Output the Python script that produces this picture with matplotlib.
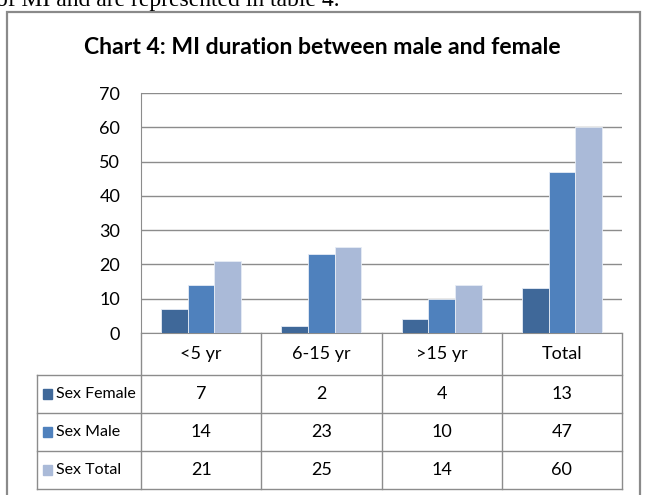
import numpy as np
import matplotlib.pyplot as plt
from matplotlib.patches import Rectangle

categories = ['<5 yr', '6-15 yr', '>15 yr', 'Total']
series_names = ['Sex Female', 'Sex Male', 'Sex Total']
female = [7, 2, 4, 13]
male = [14, 23, 10, 47]
total = [21, 25, 14, 60]
colors = ['#3F6899', '#4F81BD', '#AABAD8']

W, H = 645, 495
NARROW = ['Lato', 'DejaVu Sans']
grid_col = '#8c8c8c'

fig = plt.figure(figsize=(W / 100, H / 100), dpi=100)


def box(x0, y0, x1, y1):
    # pixel box, origin top-left -> figure rect
    return [x0 / W, 1 - y1 / H, (x1 - x0) / W, (y1 - y0) / H]


# cropped line of body text above the chart
fig.text(-4 / W, 1 - 6 / H, 'of MI and are represented in table 4.',
         family='Liberation Serif', fontsize=17, va='baseline', ha='left')

# chart frame
fig.patches.append(Rectangle((7 / W, -0.02), (640 - 7) / W, (H - 12) / H + 0.02,
                             transform=fig.transFigure, fill=False,
                             ec='#8a8a8a', lw=1.6))

fig.text(322 / W, 1 - 47 / H, 'Chart 4: MI duration between male and female',
         family=NARROW, fontsize=16.6, fontweight='bold', ha='center', va='center')

# bars
ax = fig.add_axes(box(141, 93, 622, 333))
x = np.arange(len(categories))
w = 1 / 4.5
for i, (vals, c) in enumerate(zip([female, male, total], colors)):
    ax.bar(x + (i - 1) * w, vals, w, color=c, edgecolor='#e6ecf5', lw=0.6, zorder=3)
ax.set_xlim(-0.5, len(categories) - 0.5)
ax.set_ylim(0, 70)
ax.set_yticks(range(0, 71, 10))
ax.yaxis.grid(True, color=grid_col, lw=1)
ax.set_axisbelow(True)
ax.set_xticks([])
for s in ['top', 'right']:
    ax.spines[s].set_visible(False)
ax.spines['left'].set_color(grid_col)
ax.spines['bottom'].set_color(grid_col)
ax.tick_params(axis='y', length=0, pad=15, labelsize=13)
for t in ax.get_yticklabels():
    t.set_family(NARROW)

# data table under the plot
tx = fig.add_axes(box(37, 333, 622, 489))
tx.set_xlim(37, 622)
tx.set_ylim(489, 333)
tx.axis('off')
col_edges = np.linspace(141, 622, len(categories) + 1)
row_edges = [333, 375, 413, 451, 489]
for xe in col_edges:
    tx.plot([xe, xe], [333, 489], color=grid_col, lw=1, clip_on=False)
tx.plot([37, 37], [375, 489], color=grid_col, lw=1, clip_on=False)
for ye in row_edges[1:]:
    tx.plot([37, 622], [ye, ye], color=grid_col, lw=1, clip_on=False)

col_mid = (col_edges[:-1] + col_edges[1:]) / 2
for cx, cat in zip(col_mid, categories):
    tx.text(cx, (row_edges[0] + row_edges[1]) / 2, cat, ha='center', va='center',
            family=NARROW, fontsize=13)
for r, (name, vals, c) in enumerate(zip(series_names, [female, male, total], colors)):
    cy = (row_edges[r + 1] + row_edges[r + 2]) / 2
    tx.add_patch(Rectangle((43, cy - 5), 9, 10, color=c))
    tx.text(56, cy, name, ha='left', va='center', family=NARROW, fontsize=11.5)
    for cx, v in zip(col_mid, vals):
        tx.text(cx, cy, str(v), ha='center', va='center', family=NARROW, fontsize=13)

fig.savefig('out.png', dpi=100)
